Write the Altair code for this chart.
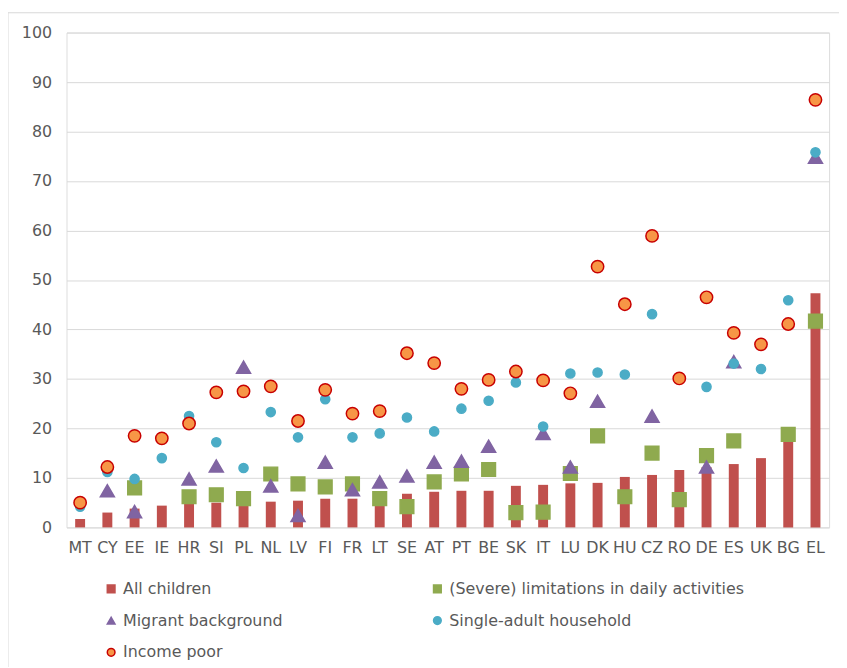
import altair as alt
import pandas as pd

countries = ["MT", "CY", "EE", "IE", "HR", "SI", "PL", "NL", "LV", "FI", "FR", "LT", "SE", "AT",
             "PT", "BE", "SK", "IT", "LU", "DK", "HU", "CZ", "RO", "DE", "ES", "UK", "BG", "EL"]

all_children = [1.7, 3.0, 3.8, 4.4, 4.8, 5.0, 4.7, 5.2, 5.4, 5.8, 5.8, 6.0, 6.8, 7.2,
                7.4, 7.4, 8.4, 8.6, 8.9, 9.0, 10.2, 10.6, 11.6, 12.2, 12.8, 14.0, 18.0, 47.3]

limitations = [None, None, 8.0, None, 6.2, 6.6, 5.8, 10.8, 8.8, 8.2, 8.8, 5.8, 4.2, 9.2,
               10.8, 11.7, 3.0, 3.1, 10.9, 18.5, 6.2, 15.0, 5.6, 14.5, 17.5, None, 18.8, 41.7]

migrant = [None, 7.4, 3.2, None, 9.8, 12.4, 32.4, 8.4, 2.4, 13.2, 7.6, 9.2, 10.4, 13.2,
           13.4, 16.4, None, 19.0, 12.2, 25.5, None, 22.5, None, 12.2, 33.5, None, None, 74.8]

single_adult = [4.2, 11.2, 9.8, 14.0, 22.5, 17.2, 12.0, 23.3, 18.2, 25.9, 18.2, 19.0, 22.2, 19.4,
                24.0, 25.6, 29.3, 20.4, 31.1, 31.3, 30.9, 43.1, 30.2, 28.4, 33.1, 32.0, 45.9, 75.8]

income_poor = [5.0, 12.2, 18.5, 18.0, 21.0, 27.3, 27.5, 28.5, 21.5, 27.8, 23.0, 23.5, 35.2, 33.2,
               28.0, 29.8, 31.5, 29.7, 27.1, 52.7, 45.1, 58.9, 30.1, 46.5, 39.3, 37.0, 41.1, 86.4]

series_names = ["All children", "(Severe) limitations in daily activities",
                "Migrant background", "Single-adult household", "Income poor"]
fills = ["#C0504D", "#8FAA4F", "#8064A2", "#4BACC6", "#F79646"]
strokes = ["#C0504D", "#8FAA4F", "#8064A2", "#4BACC6", "#C80000"]
shapes = ["square", "square", "triangle-up", "circle", "circle"]
sizes = [100, 190, 200, 85, 155]
y_ticks = [0, 10, 20, 30, 40, 50, 60, 70, 80, 90, 100]

# legend is laid out column by column: order entries so rows read as in the original
legend_order = [0, 2, 4, 1, 3]
dom = [series_names[i] for i in legend_order]
fills_o = [fills[i] for i in legend_order]
strokes_o = [strokes[i] for i in legend_order]
shapes_o = [shapes[i] for i in legend_order]

FONT = "DejaVu Sans"
TXT = "#595959"

x_enc = alt.X("country:N", sort=countries, title=None,
              scale=alt.Scale(paddingInner=0.2, paddingOuter=0.1),
              axis=alt.Axis(labelAngle=0, labelFontSize=16, labelFont=FONT, labelColor=TXT,
                            ticks=False, domain=False, labelPadding=12, grid=False))
y_enc = alt.Y("value:Q", title=None, scale=alt.Scale(domain=[0, 100], nice=False),
              axis=alt.Axis(values=y_ticks, labelFontSize=16, labelFont=FONT, labelColor=TXT,
                            ticks=False, domain=False, labelPadding=15, grid=True,
                            gridColor="#D9D9D9", gridWidth=1))

legend = alt.Legend(title=None, orient="none", legendX=37, legendY=553, columns=2,
                    columnPadding=148, rowPadding=16, labelFontSize=16, labelFont=FONT,
                    labelColor=TXT, symbolSize=60, labelOffset=4, padding=0,
                    symbolStrokeWidth=1.5, labelLimit=400)

color = alt.Color("series:N", scale=alt.Scale(domain=dom, range=fills_o), legend=legend)
shape = alt.Shape("series:N", scale=alt.Scale(domain=dom, range=shapes_o), legend=legend)
stroke = alt.Stroke("series:N", scale=alt.Scale(domain=dom, range=strokes_o), legend=legend)

bar_df = pd.DataFrame({"country": countries, "value": all_children, "series": series_names[0]})
bars = alt.Chart(bar_df).mark_bar(size=10).encode(x=x_enc, y=y_enc, color=color)

layers = []
for name, vals, sz in zip(series_names[1:], [limitations, migrant, single_adult, income_poor], sizes[1:]):
    rows = [{"country": c, "value": v, "series": name} for c, v in zip(countries, vals) if v is not None]
    df = pd.DataFrame(rows)
    layers.append(
        alt.Chart(df).mark_point(filled=True, opacity=1, strokeWidth=1.5, size=sz).encode(
            x=x_enc, y=y_enc, color=color, shape=shape, stroke=stroke)
    )

frame = alt.Chart(alt.Data(values=[{}])).mark_rect(fill=None, stroke="#D9D9D9", strokeWidth=1).encode(
    x=alt.value(-59), x2=alt.value(790), y=alt.value(-20), y2=alt.value(700))

chart = alt.layer(frame, bars, *layers).properties(
    width=769, height=499,
    autosize=alt.AutoSizeParams(type="none"),
    padding={"left": 59, "top": 22, "right": 10, "bottom": 138},
).configure_view(stroke=None).configure(background="white")

chart.save("out.html", embed_options={"renderer": "svg", "actions": False})
